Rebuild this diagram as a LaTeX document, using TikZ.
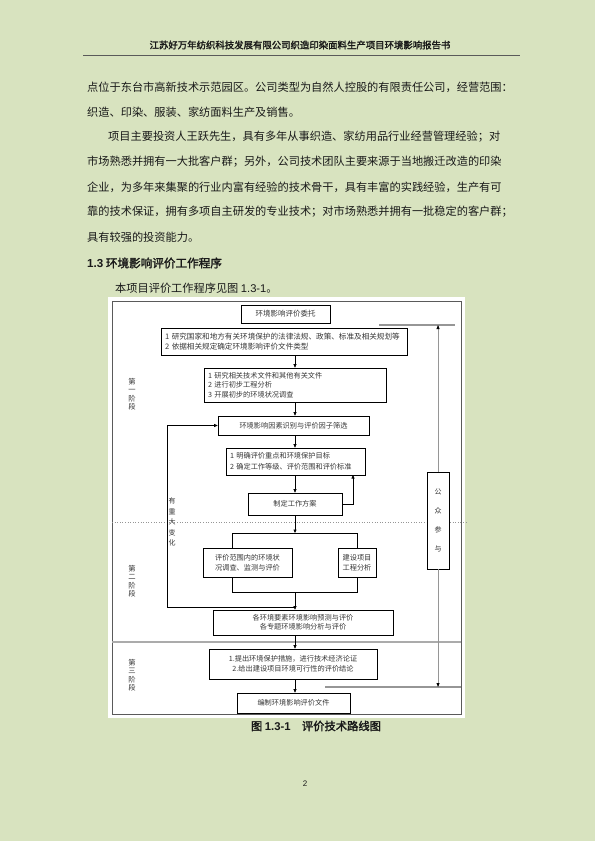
\documentclass[tikz,border=0pt]{standalone}
\usepackage{fontspec}
\setmainfont{Noto Sans CJK SC}[AutoFakeBold=2]
\newfontfamily\lat{Liberation Sans}
\usetikzlibrary{arrows.meta}
\definecolor{pagebg}{RGB}{216,227,191}
\definecolor{txt}{RGB}{25,25,25}
\definecolor{dtxt}{RGB}{55,55,55}
\definecolor{glin}{RGB}{150,150,150}
\definecolor{frm}{RGB}{90,90,90}
\begin{document}
\begin{tikzpicture}[x=1pt,y=-1pt,
  box/.style={draw=black,line width=0.6pt,fill=white,inner sep=0pt,align=center,text=dtxt,font=\fontsize{7.2}{10}\selectfont},
  lbox/.style={box,align=left,inner xsep=4pt},
  arr/.style={line width=0.6pt,-{Triangle[length=3.5pt,width=3pt]}},
  ln/.style={line width=0.6pt},
  body/.style={anchor=west,inner sep=0pt,text=txt,font=\fontsize{11.2}{13}\selectfont},
  vlab/.style={inner sep=0pt,align=center,text=dtxt,font=\fontsize{7.3}{8.5}\selectfont},
]
\useasboundingbox (0,0) rectangle (595,841);
\fill[pagebg] (0,0) rectangle (595,841);

% header
\node[inner sep=0pt,text=txt,font=\fontsize{9.4}{10}\selectfont\bfseries] (hdr) at (300,45) {江苏好万年纺织科技发展有限公司织造印染面料生产项目环境影响报告书};
\draw[line width=0.8pt,draw=frm] (83,55) -- (520,55);

% body text
\node[body] (l1) at (87,87) {点位于东台市高新技术示范园区。公司类型为自然人控股的有限责任公司，经营范围：};
\node[body] (l2) at (87,112) {织造、印染、服装、家纺面料生产及销售。};
\node[body] (l3) at (108,137) {项目主要投资人王跃先生，具有多年从事织造、家纺用品行业经营管理经验；对};
\node[body] (l4) at (87,162) {市场熟悉并拥有一大批客户群；另外，公司技术团队主要来源于当地搬迁改造的印染};
\node[body] (l5) at (87,187) {企业，为多年来集聚的行业内富有经验的技术骨干，具有丰富的实践经验，生产有可};
\node[body] (l6) at (87,212) {靠的技术保证，拥有多项自主研发的专业技术；对市场熟悉并拥有一批稳定的客户群；};
\node[body] (l7) at (87,237) {具有较强的投资能力。};
\node[body,font=\fontsize{11.6}{13}\selectfont\bfseries] (sec) at (87,263) {{\lat\bfseries 1.3} 环境影响评价工作程序};
\node[body] (l8) at (115,288) {本项目评价工作程序见图 {\lat 1.3-1}。};

% diagram background and frame
\fill[white] (108,297) rectangle (465,718);
\draw[line width=0.8pt,draw=frm] (112,301) rectangle (461,714);
\draw[line width=0.6pt,draw=glin,dotted] (112,522) -- (468,522);
\draw[line width=1.4pt,draw=glin!80] (112,642) -- (461,642);

% boxes
\node[box,minimum width=89pt,minimum height=18pt,font=\fontsize{7.5}{10}\selectfont] (b1) at (285.5,314) {环境影响评价委托};
\node[lbox,text width=238pt,minimum height=27pt,font=\fontsize{7.6}{10}\selectfont] (b2) at (284,341.5) {1 研究国家和地方有关环境保护的法律法规、政策、标准及相关规划等\\2 依据相关规定确定环境影响评价文件类型};
\node[lbox,text width=174pt,minimum height=34pt,font=\fontsize{7.2}{9.3}\selectfont] (b3) at (295,385) {1 研究相关技术文件和其他有关文件\\2 进行初步工程分析\\3 开展初步的环境状况调查};
\node[box,minimum width=151pt,minimum height=19pt] (b4) at (293.5,425.5) {环境影响因素识别与评价因子筛选};
\node[lbox,text width=131pt,minimum height=27pt,font=\fontsize{7.2}{11.5}\selectfont] (b5) at (295.5,461.5) {1 明确评价重点和环境保护目标\\2 确定工作等级、评价范围和评价标准};
\node[box,minimum width=94pt,minimum height=22pt] (b6) at (295,504) {制定工作方案};
\node[box,minimum width=89pt,minimum height=29pt] (b8) at (247.5,562.5) {评价范围内的环境状\\况调查、监测与评价};
\node[box,minimum width=38pt,minimum height=29pt] (b9) at (357,562.5) {建设项目\\工程分析};
\node[box,minimum width=180pt,minimum height=25pt,font=\fontsize{7.2}{9.5}\selectfont] (b7) at (303,622.5) {各环境要素环境影响预测与评价\\各专题环境影响分析与评价};
\node[box,minimum width=168pt,minimum height=30pt,font=\fontsize{7.2}{9.5}\selectfont] (b10) at (293,664) {1.提出环境保护措施，进行技术经济论证\\2.给出建设项目环境可行性的评价结论};
\node[box,minimum width=113pt,minimum height=20pt] (b11) at (293.5,703) {编制环境影响评价文件};
\node[box,minimum width=22pt,minimum height=97pt,font=\fontsize{7}{19}\selectfont] (pub) at (438,520.5) {公\\众\\参\\与};

% stage labels
\node[vlab] (s1) at (132,394) {第\\一\\阶\\段};
\node[vlab] (s2) at (132,581) {第\\二\\阶\\段};
\node[vlab] (s3) at (132,675) {第\\三\\阶\\段};
\node[vlab,font=\fontsize{7}{10.5}\selectfont] (chg) at (172,522) {有\\重\\大\\变\\化};

% coordinates
\coordinate (ax) at (295,0);
\coordinate (tl) at (232,533);
\coordinate (tr) at (357,533);
\coordinate (bl) at (232,592);
\coordinate (br) at (357,592);
\coordinate (j1) at (295,533);
\coordinate (j2) at (295,592);
\coordinate (j3) at (295,607);
\coordinate (lp) at (167,607);
\coordinate (fb) at (353,475);
\coordinate (gt) at (438,325);
\coordinate (gb) at (438,687);

% connectors
\draw[arr] (b3.north |- b2.south) -- (b3.north);
\draw[arr] (ax |- b3.south) -- (ax |- b4.north);
\draw[arr] (ax |- b4.south) -- (ax |- b5.north);
\draw[arr] (ax |- b5.south) -- (ax |- b6.north);
\draw[arr] (b6.east) -| (fb);
\draw[arr] (b6.south) -- (j1);
\draw[ln] (tl) -- (tr);
\draw[ln] (tl) -- (tl |- b8.north);
\draw[ln] (tr) -- (tr |- b9.north);
\draw[ln] (bl |- b8.south) -- (bl) -- (br) -- (br |- b9.south);
\draw[arr] (j2) -- (j2 |- b7.north);
\draw[arr] (j3) -- (lp) |- (b4.west);
\draw[arr] (ax |- b7.south) -- (ax |- b10.north);
\draw[arr] (ax |- b10.south) -- (ax |- b11.north);

% public participation
\draw[line width=1.3pt,draw=glin] (379,325) -- (455,325);
\draw[line width=1.3pt,draw=glin] (325,687) -- (461,687);
\draw[line width=0.7pt,draw=glin] (pub.north) -- (gt);
\draw[line width=0.7pt,draw=glin] (pub.south) -- (gb);
\fill[black] (gt) -- ++(-1.6,4) -- ++(3.2,0) -- cycle;
\fill[black] (gb) -- ++(-1.6,-4) -- ++(3.2,0) -- cycle;

% caption and page number
\node[inner sep=0pt,text=txt,font=\fontsize{11.3}{13}\selectfont\bfseries] (cap) at (316,726) {图 {\lat\bfseries 1.3-1}\quad 评价技术路线图};
\node[inner sep=0pt,text=txt,font=\lat\fontsize{8}{9}\selectfont] (pg) at (305,784) {2};
\end{tikzpicture}
\end{document}
